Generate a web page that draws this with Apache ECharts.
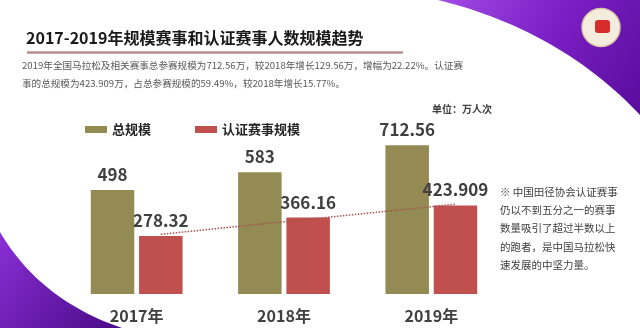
<!DOCTYPE html>
<html>
<head>
<meta charset="utf-8">
<script src="https://cdn.jsdelivr.net/npm/echarts@6/dist/echarts.min.js"></script>
<style>
html,body{margin:0;padding:0;background:#fff;}
#chart{width:640px;height:328px;}
</style>
</head>
<body>
<div id="chart"></div>
<script>
// ---- data ----
var categories = ['2017年', '2018年', '2019年'];
var seriesNames = ['总规模', '认证赛事规模'];
var totalScale = [498, 583, 712.56];
var certifiedScale = [278.32, 366.16, 423.909];
// dotted trend line end values (at 2017 and 2019)
var trendEnds = [286, 430];

var titleText = '2017-2019年规模赛事和认证赛事人数规模趋势';
var introLines = [
  '2019年全国马拉松及相关赛事总参赛规模为712.56万，较2018年增长129.56万，增幅为22.22%。认证赛',
  '事的总规模为423.909万，占总参赛规模的59.49%，较2018年增长15.77%。'
];
var unitText = '单位：万人次';
var noteLines = [
  '※ 中国田径协会认证赛事',
  '仍以不到五分之一的赛事',
  '数量吸引了超过半数以上',
  '的跑者，是中国马拉松快',
  '速发展的中坚力量。'
];

var FONT = '"Noto Sans CJK SC", "Noto Sans", sans-serif';
var chart = echarts.init(document.getElementById('chart'), null, {renderer: 'canvas'});

// decorative swoosh outline: quadratic curve sampled into polygon points
function quadShape(p0, c, p1, extra) {
  var pts = [];
  for (var i = 0; i <= 40; i++) {
    var t = i / 40, u = 1 - t;
    pts.push([u*u*p0[0] + 2*u*t*c[0] + t*t*p1[0], u*u*p0[1] + 2*u*t*c[1] + t*t*p1[1]]);
  }
  return pts.concat(extra);
}
function grad(stops) {
  return {type: 'linear', x: 0, y: 0, x2: 1, y2: 1,
          colorStops: stops.map(function (s) { return {offset: s[0], color: s[1]}; })};
}

var labelStyle = {
  show: true, position: 'top', distance: 7,
  fontSize: 17, fontWeight: 'bold', color: '#404040', fontFamily: FONT
};

var graphics = [
  {type: 'polygon', z: -10, shape: {points: quadShape([438, 0], [560, 30], [640, 115], [[640, 0]])},
   style: {fill: grad([[0, '#a24be6'], [0.5, '#7a1fc4'], [1, '#5a0c9c']])}},
  {type: 'polygon', z: -10, shape: {points: quadShape([0, 232], [40, 300], [122, 328], [[0, 328]])},
   style: {fill: grad([[0, '#8a2fd6'], [1, '#4a0a86']])}},
  // logo
  {type: 'circle', z: -5, shape: {cx: 601, cy: 27.5, r: 19},
   style: {fill: '#f4ecdc', stroke: '#d8c8a8', lineWidth: 1.5}},
  {type: 'rect', z: -4, shape: {x: 595, y: 20, width: 15, height: 13, r: 3},
   style: {fill: '#d62c2c'}},
  // title
  {type: 'text', x: 26, y: 37.5,
   style: {text: titleText, fontSize: 16, fontWeight: 'bold', fill: '#1a1a1a',
           fontFamily: FONT, verticalAlign: 'middle', align: 'left'}},
  // underline
  {type: 'rect', shape: {x: 27, y: 51.3, width: 376, height: 2.4},
   style: {fill: '#b98f8f'}},
  // intro text
  {type: 'text', x: 22, y: 65,
   style: {text: introLines[0], fontSize: 9.6, fill: '#595959', fontFamily: FONT, verticalAlign: 'middle'}},
  {type: 'text', x: 22, y: 83.3,
   style: {text: introLines[1], fontSize: 9.6, fill: '#595959', fontFamily: FONT, verticalAlign: 'middle'}},
  // unit
  {type: 'text', x: 432, y: 109,
   style: {text: unitText, fontSize: 10, fontWeight: 'bold', fill: '#404040', fontFamily: FONT, verticalAlign: 'middle'}},
  // note
  {type: 'text', x: 500, y: 182.5,
   style: {text: noteLines.join('\n'), fontSize: 10.5, lineHeight: 18.4, fill: '#404040',
           fontFamily: FONT, verticalAlign: 'top'}}
];

chart.setOption({
  animation: false,
  textStyle: {fontFamily: FONT},
  legend: {
    data: seriesNames, left: 80, top: 118, icon: 'rect',
    itemWidth: 22, itemHeight: 7, itemGap: 44,
    textStyle: {fontSize: 13, fontWeight: 'bold', color: '#262626', fontFamily: FONT}
  },
  grid: {left: 63, right: 135, top: 127, bottom: 34, containLabel: false},
  xAxis: {
    type: 'category', data: categories,
    axisLine: {show: false}, axisTick: {show: false}, splitLine: {show: false},
    axisLabel: {fontSize: 16, fontWeight: 'bold', color: '#404040', margin: 14, fontFamily: FONT}
  },
  yAxis: {type: 'value', min: 0, max: 800, show: false, splitLine: {show: false}},
  graphic: graphics,
  series: [
    {name: seriesNames[0], type: 'bar', data: totalScale, barWidth: 43.5, barGap: '11%',
     itemStyle: {color: '#948a54'}, label: labelStyle},
    {name: seriesNames[1], type: 'bar', data: certifiedScale, barWidth: 43.5, barGap: '11%',
     itemStyle: {color: '#c0504d'}, label: labelStyle,
     markLine: {
       silent: true, symbol: ['none', 'none'], label: {show: false},
       lineStyle: {type: 'dotted', color: '#a4524f', width: 1.5},
       data: [[{coord: [categories[0], trendEnds[0]]}, {coord: [categories[2], trendEnds[1]]}]]
     }}
  ]
});
</script>
</body>
</html>
